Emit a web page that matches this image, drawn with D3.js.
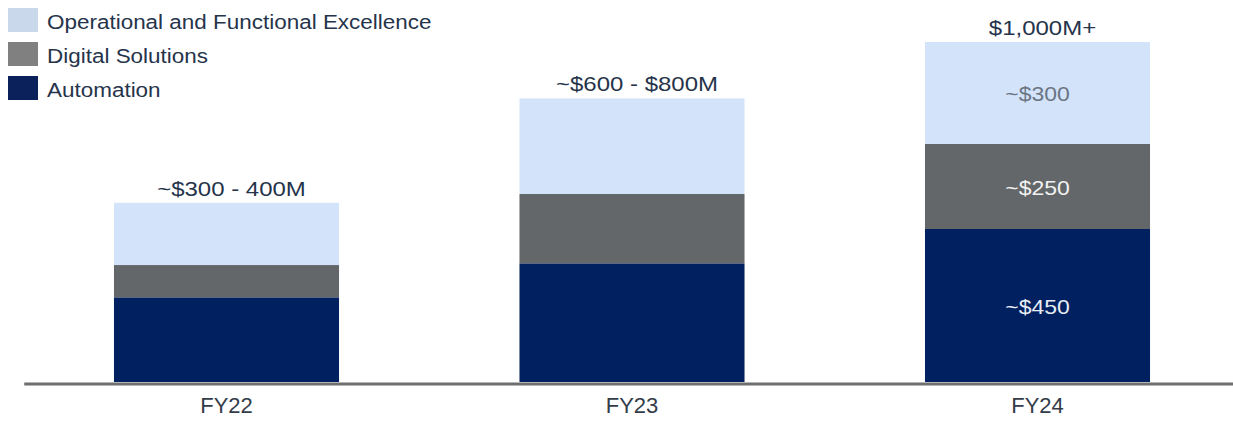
<!DOCTYPE html>
<html>
<head>
<meta charset="utf-8">
<script src="https://cdn.jsdelivr.net/npm/d3@7"></script>
<style>
  html, body { margin: 0; padding: 0; background: #ffffff; }
  svg { display: block; font-family: "Liberation Sans", Arial, sans-serif; }
</style>
</head>
<body>
<svg id="chart" width="1233" height="421"></svg>
<script>
// Fiscal years on the x axis
const years = ["FY22", "FY23", "FY24"];

// Stacked series values ($M), bottom to top
const automation = [249, 349, 450];
const digitalSolutions = [95, 204, 250];
const operationalExcellence = [183, 281, 300];

// Series names (legend order, top to bottom)
const seriesNames = ["Operational and Functional Excellence", "Digital Solutions", "Automation"];

// Total labels above each bar
const totalLabels = ["~$300 - 400M", "~$600 - $800M", "$1,000M+"];

// Segment labels shown inside the FY24 bar
const segmentLabels = { "FY24": { automation: "~$450", digital: "~$250", operational: "~$300" } };

const W = 1233, H = 421;
const svg = d3.select("#chart");

const barColors = { automation: "#00205f", digital: "#646769", operational: "#d3e4fa" };
const legendColors = { automation: "#0b215c", digital: "#808080", operational: "#c9d9eb" };
const textColor = "#26344b";

const rows = years.map((y, i) => ({
  year: y,
  automation: automation[i],
  digital: digitalSolutions[i],
  operational: operationalExcellence[i]
}));

const keys = ["automation", "digital", "operational"];
const stack = d3.stack().keys(keys)(rows);

const x = d3.scaleBand()
  .domain(years)
  .range([23.75, 1240.25])
  .paddingInner(0.445)
  .paddingOuter(0.2225);

const y = d3.scaleLinear()
  .domain([0, 1000])
  .range([382, 42]);

// Text placed at (px, py), widened horizontally by sx
function wideText(parent, px, py, sx, str) {
  return parent.append("text")
    .attr("transform", `translate(${px},${py}) scale(${sx},1)`)
    .text(str);
}

// Stacked bars
const layers = svg.append("g").selectAll("g")
  .data(stack)
  .join("g")
  .attr("fill", d => barColors[d.key]);

layers.selectAll("rect")
  .data(d => d.map(v => ({ key: d.key, v })))
  .join("rect")
  .attr("x", d => x(d.v.data.year))
  .attr("width", x.bandwidth())
  .attr("y", d => y(d.v[1]))
  .attr("height", d => y(d.v[0]) - y(d.v[1]));

// Segment value labels
const segLabelColor = { automation: "#e8ecf4", digital: "#f2f2f2", operational: "#6b7584" };
stack.forEach(layer => {
  layer.forEach(v => {
    const lbl = segmentLabels[v.data.year];
    if (!lbl) return;
    wideText(svg, x(v.data.year) + x.bandwidth() / 2, (y(v[0]) + y(v[1])) / 2 + 1.5, 1.15, lbl[layer.key])
      .attr("text-anchor", "middle")
      .attr("dominant-baseline", "central")
      .attr("font-size", 20)
      .attr("fill", segLabelColor[layer.key]);
  });
});

// Total labels above bars
const totals = rows.map(r => r.automation + r.digital + r.operational);
const totalG = svg.append("g");
years.forEach((yr, i) => {
  wideText(totalG, x(yr) + x.bandwidth() / 2 + 5, y(totals[i]) - 7, 1.2, totalLabels[i])
    .attr("text-anchor", "middle")
    .attr("font-size", 20)
    .attr("fill", textColor);
});

// Bottom axis
const axis = svg.append("g")
  .attr("transform", "translate(0,383.5)")
  .call(d3.axisBottom(x).tickSize(0).tickPadding(0).tickSizeOuter(0));
axis.select(".domain")
  .attr("stroke", "#6e6e6e")
  .attr("stroke-width", 3);
axis.selectAll(".tick text")
  .attr("dy", null)
  .attr("y", 29.5)
  .attr("font-size", 22)
  .attr("font-family", "Liberation Sans, Arial, sans-serif")
  .attr("fill", "#333c48");

// Legend
const legendKeys = ["operational", "digital", "automation"];
const legend = svg.append("g").selectAll("g")
  .data(legendKeys)
  .join("g")
  .attr("transform", (d, i) => `translate(8,${8 + i * 34})`);
legend.append("rect")
  .attr("width", 30)
  .attr("height", 24)
  .attr("fill", d => legendColors[d]);
legend.each(function (d, i) {
  wideText(d3.select(this), 39, 21, 1.07, seriesNames[i])
    .attr("font-size", 21)
    .attr("fill", textColor);
});
</script>
</body>
</html>
